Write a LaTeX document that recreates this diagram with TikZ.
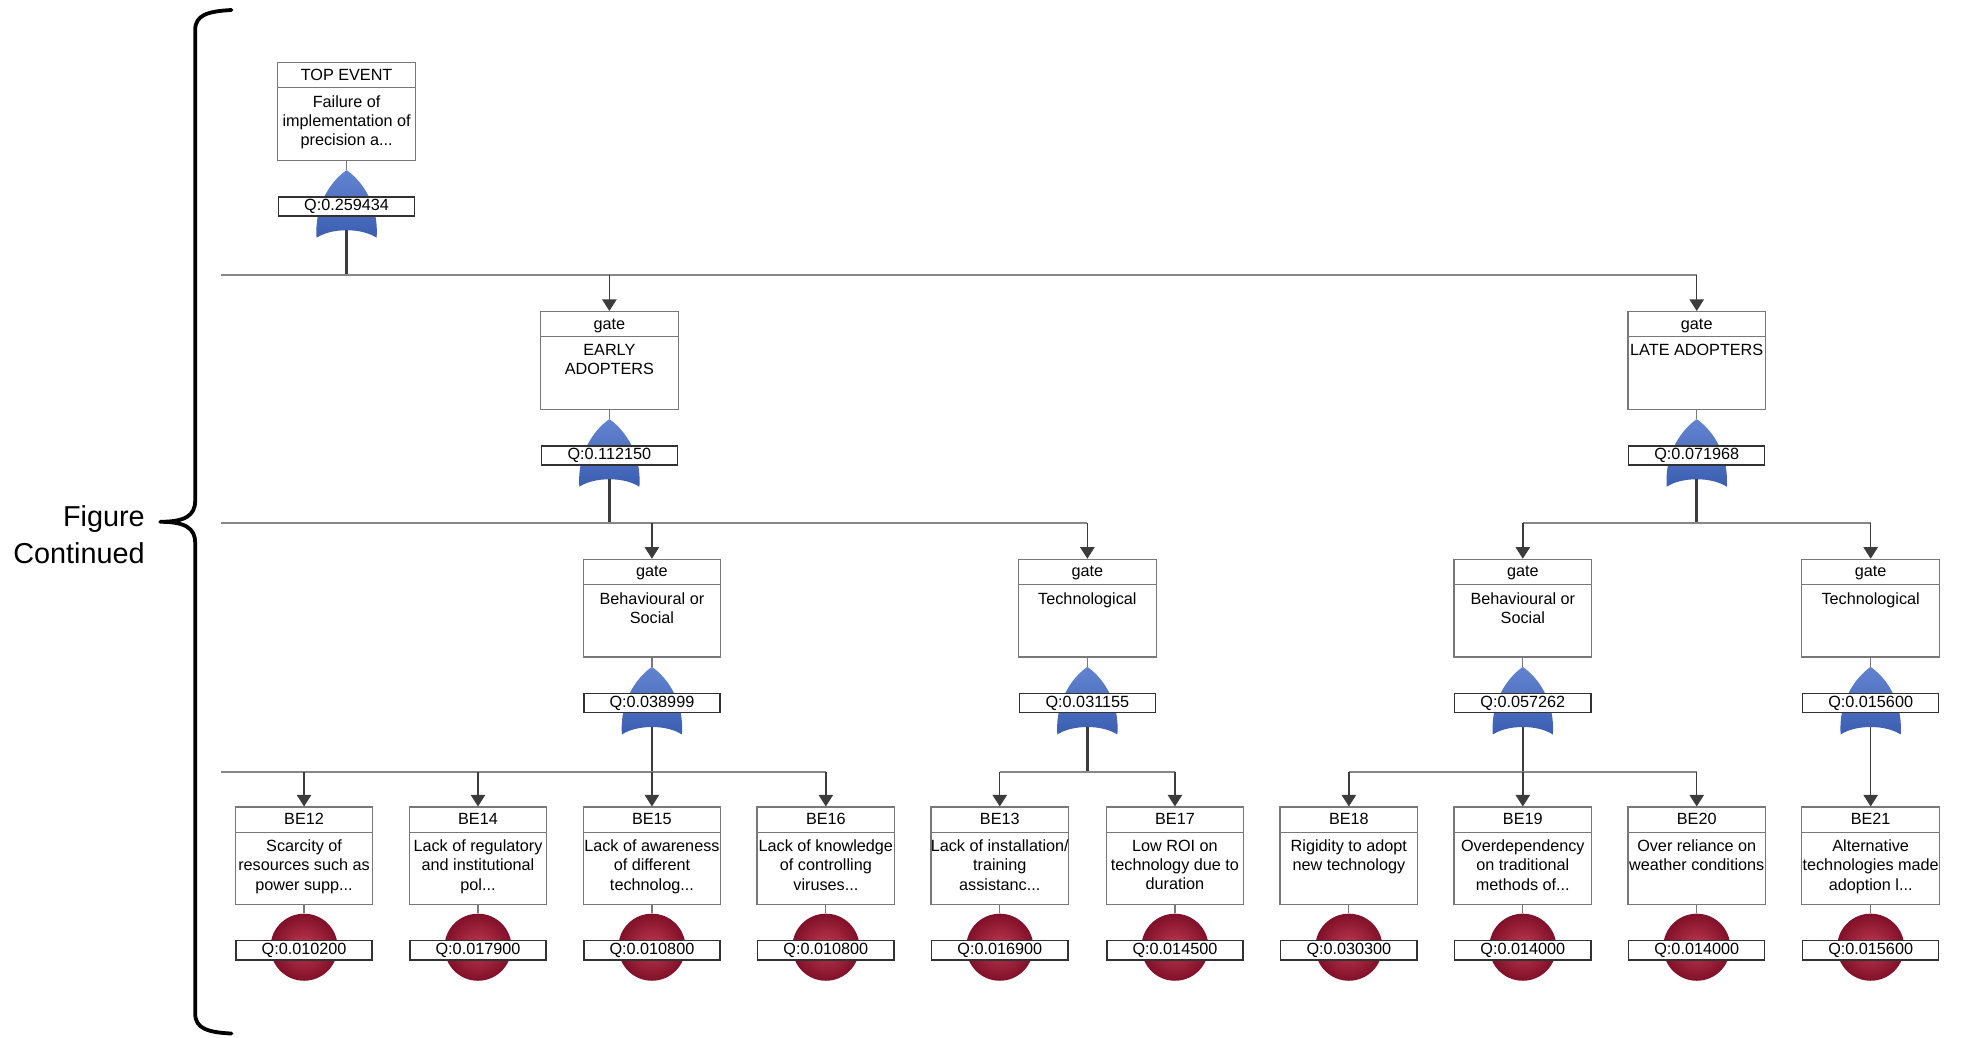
\documentclass[tikz,border=0pt]{standalone}
\usepackage{fontspec}
\setmainfont{Liberation Sans}
\usetikzlibrary{arrows.meta}

\definecolor{boxgray}{RGB}{120,120,120}
\definecolor{qedge}{RGB}{50,50,50}
\definecolor{linegray}{RGB}{135,135,135}
\definecolor{linedark}{RGB}{60,60,60}
\definecolor{gatelight}{RGB}{98,132,208}
\definecolor{gatedark}{RGB}{60,94,178}
\definecolor{balllight}{RGB}{192,58,82}
\definecolor{balldark}{RGB}{128,16,40}

\tikzset{
  frame/.style={draw=boxgray, line width=0.6pt, fill=white, rectangle,
    minimum width=68.75pt, minimum height=48.75pt, inner sep=0pt},
  divider/.style={draw=boxgray, line width=0.6pt},
  headtxt/.style={font=\fontsize{8.1}{9.6}\selectfont, inner sep=0pt, anchor=base},
  bodytxt/.style={font=\fontsize{8.1}{9.6}\selectfont, inner sep=0pt, anchor=north, align=center},
  qbox/.style={draw=qedge, line width=0.65pt, fill=white, rectangle,
    minimum width=68pt, minimum height=9.6pt, inner sep=0pt,
    font=\fontsize{8.1}{9.6}\selectfont},
  evball/.style={circle, minimum size=33.5pt, inner sep=0pt,
    inner color=balllight, outer color=balldark},
  gateshade/.style={top color=gatelight, bottom color=gatedark},
  stem/.style={draw=boxgray, line width=0.6pt},
  stemthick/.style={draw=linedark, line width=1.3pt},
  hline/.style={draw=linegray, line width=0.9pt},
  arr/.style={draw=linedark, line width=0.7pt, -{Triangle[length=5.8pt,width=7.2pt]}},
  brace/.style={draw=black, line width=1.9pt, line cap=round, line join=round},
  sidenote/.style={font=\fontsize{14.4}{18.75}\selectfont, align=right, inner sep=0pt, anchor=north east}
}

% event box with header and body text, placed by centre x and top y
\newcommand\eventframe[5]{%
  \node[frame] (#1) at (#2,#3+39) {};
  \draw[divider] (#2-55,#3+20) -- (#2+55,#3+20);
  \node[headtxt] (#1-h) at (#2,#3+14) {#4};
  \node[bodytxt] (#1-b) at (#2,#3+26) {#5};
}

% intermediate event: box, OR gate and probability label
\newcommand\gateevent[6]{%
  \eventframe{#1}{#2}{#3}{#4}{#5}
  \coordinate (#1-gtop) at (#2,#3+86);
  \coordinate (#1-gbot) at (#2,#3+134);
  \draw[stem] (#1.south) -- (#1-gtop);
  \shade[gateshade] (#2,#3+86)
    .. controls (#2+9,#3+92) and (#2+26,#3+110) .. (#2+24,#3+140)
    .. controls (#2+12,#3+132) and (#2-12,#3+132) .. (#2-24,#3+140)
    .. controls (#2-26,#3+110) and (#2-9,#3+92) .. cycle;
  \node[qbox] (#1-q) at (#2,#3+115) {Q:#6};
}

% basic event: box, circle and probability label
\newcommand\basicevent[6]{%
  \eventframe{#1}{#2}{#3}{#4}{#5}
  \node[evball] (#1-c) at (#2,#3+112) {};
  \draw[stem] (#1.south) -- (#1-c.north);
  \node[qbox] (#1-q) at (#2,#3+114.5) {Q:#6};
}

\begin{document}
\begin{tikzpicture}[x=0.625pt,y=-0.625pt]
\useasboundingbox (0,0) rectangle (1568,829);

% continuation brace on the left
\draw[brace] (185,8) .. controls (166,9) and (156,12) .. (156,24)
  -- (156,400) .. controls (156,412) and (148,417) .. (128,417)
  .. controls (148,417) and (156,422) .. (156,434)
  -- (156,810) .. controls (156,822) and (166,825) .. (185,826);
\node[sidenote] (cont) at (116,403.5) {Figure\\Continued};

% top event
\gateevent{te}{277}{50}{TOP EVENT}{Failure of\\implementation of\\precision a...}{0.259434}

% second level
\gateevent{ea}{487}{249}{gate}{EARLY\\ADOPTERS}{0.112150}
\gateevent{la}{1356}{249}{gate}{LATE ADOPTERS}{0.071968}

% third level
\gateevent{eab}{521}{447}{gate}{Behavioural or\\Social}{0.038999}
\gateevent{eat}{869}{447}{gate}{Technological}{0.031155}
\gateevent{lab}{1217}{447}{gate}{Behavioural or\\Social}{0.057262}
\gateevent{lat}{1495}{447}{gate}{Technological}{0.015600}

% basic events
\basicevent{be12}{243}{645}{BE12}{Scarcity of\\resources such as\\power supp...}{0.010200}
\basicevent{be14}{382}{645}{BE14}{Lack of regulatory\\and institutional\\pol...}{0.017900}
\basicevent{be15}{521}{645}{BE15}{Lack of awareness\\of different\\technolog...}{0.010800}
\basicevent{be16}{660}{645}{BE16}{Lack of knowledge\\of controlling\\viruses...}{0.010800}
\basicevent{be13}{799}{645}{BE13}{Lack of installation/\\training\\assistanc...}{0.016900}
\basicevent{be17}{939}{645}{BE17}{Low ROI on\\technology due to\\duration}{0.014500}
\basicevent{be18}{1078}{645}{BE18}{Rigidity to adopt\\new technology}{0.030300}
\basicevent{be19}{1217}{645}{BE19}{Overdependency\\on traditional\\methods of...}{0.014000}
\basicevent{be20}{1356}{645}{BE20}{Over reliance on\\weather conditions}{0.014000}
\basicevent{be21}{1495}{645}{BE21}{Alternative\\technologies made\\adoption l...}{0.015600}

% bus lines continuing from the left
\coordinate (w1) at (177,220);
\coordinate (w2) at (177,418);
\coordinate (w3) at (177,617);

% top event to second level
\draw[stemthick] (te-gbot) -- (te-gbot |- w1);
\draw[hline] (w1) -- (la.north |- w1);
\draw[arr] (ea.north |- w1) -- (ea.north);
\draw[arr] (la.north |- w1) -- (la.north);

% early adopters
\draw[stemthick] (ea-gbot) -- (ea-gbot |- w2);
\draw[hline] (w2) -- (eat.north |- w2);
\draw[arr] (eab.north |- w2) -- (eab.north);
\draw[arr] (eat.north |- w2) -- (eat.north);

% late adopters
\draw[stemthick] (la-gbot) -- (la-gbot |- w2);
\draw[hline] (lab.north |- w2) -- (lat.north |- w2);
\draw[arr] (lab.north |- w2) -- (lab.north);
\draw[arr] (lat.north |- w2) -- (lat.north);

% early adopters, behavioural or social
\draw[stemthick] (eab-gbot) -- (eab-gbot |- w3);
\draw[hline] (w3) -- (be16.north |- w3);
\draw[arr] (be12.north |- w3) -- (be12.north);
\draw[arr] (be14.north |- w3) -- (be14.north);
\draw[arr] (be15.north |- w3) -- (be15.north);
\draw[arr] (be16.north |- w3) -- (be16.north);

% early adopters, technological
\draw[stemthick] (eat-gbot) -- (eat-gbot |- w3);
\draw[hline] (be13.north |- w3) -- (be17.north |- w3);
\draw[arr] (be13.north |- w3) -- (be13.north);
\draw[arr] (be17.north |- w3) -- (be17.north);

% late adopters, behavioural or social
\draw[stemthick] (lab-gbot) -- (lab-gbot |- w3);
\draw[hline] (be18.north |- w3) -- (be20.north |- w3);
\draw[arr] (be18.north |- w3) -- (be18.north);
\draw[arr] (be19.north |- w3) -- (be19.north);
\draw[arr] (be20.north |- w3) -- (be20.north);

% late adopters, technological
\draw[arr] (lat-gbot) -- (be21.north);
\end{tikzpicture}
\end{document}
